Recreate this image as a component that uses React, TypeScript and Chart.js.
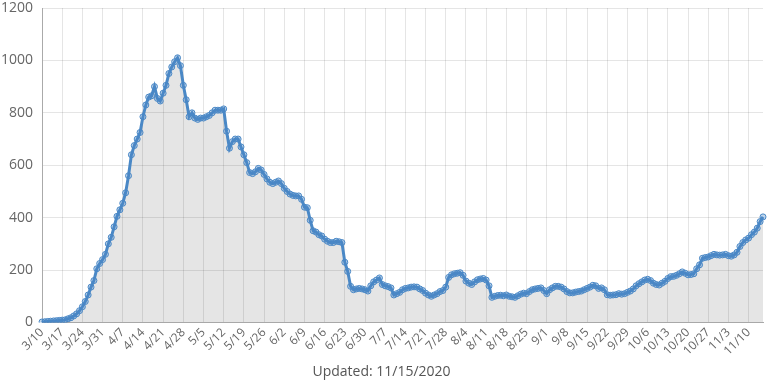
import React, { useEffect, useRef } from "react";
import { Chart, registerables } from "chart.js";

Chart.register(...registerables);

const startMonth = 3;
const startDay = 10;
const dayCount = 251;
const monthLengths = [31, 28, 31, 30, 31, 30, 31, 31, 30, 31, 30, 31];

const values: number[] = [
  // 3/10 - 3/16
  2, 3, 4, 5, 6, 7, 8,
  // 3/17 - 3/23
  9, 10, 14, 18, 25, 33, 45,
  // 3/24 - 3/30
  60, 80, 105, 135, 160, 205, 225,
  // 3/31 - 4/6
  240, 260, 300, 325, 365, 405, 430,
  // 4/7 - 4/13
  455, 495, 560, 640, 675, 700, 725,
  // 4/14 - 4/20
  785, 830, 860, 865, 900, 855, 845,
  // 4/21 - 4/27
  875, 905, 950, 975, 995, 1010, 980,
  // 4/28 - 5/4
  905, 850, 785, 800, 780, 775, 780,
  // 5/5 - 5/11
  780, 785, 790, 800, 810, 810, 810,
  // 5/12 - 5/18
  815, 730, 665, 690, 700, 700, 670,
  // 5/19 - 5/25
  640, 610, 572, 568, 575, 588, 582,
  // 5/26 - 6/1
  565, 548, 535, 530, 535, 540, 530,
  // 6/2 - 6/8
  512, 500, 490, 485, 483, 483, 470,
  // 6/9 - 6/15
  440, 438, 390, 350, 345, 335, 330,
  // 6/16 - 6/22
  318, 310, 305, 305, 310, 308, 305,
  // 6/23 - 6/29
  230, 195, 138, 125, 128, 130, 128,
  // 6/30 - 7/6
  125, 120, 140, 155, 162, 170, 145,
  // 7/7 - 7/13
  140, 137, 132, 105, 110, 115, 125,
  // 7/14 - 7/20
  130, 132, 135, 136, 135, 128, 122,
  // 7/21 - 7/27
  112, 105, 100, 105, 110, 118, 122,
  // 7/28 - 8/3
  135, 172, 182, 186, 188, 190, 180,
  // 8/4 - 8/10
  158, 150, 145, 155, 163, 166, 168,
  // 8/11 - 8/17
  162, 140, 96, 100, 103, 104, 102,
  // 8/18 - 8/24
  105, 100, 98, 96, 102, 108, 112,
  // 8/25 - 8/31
  110, 118, 125, 128, 130, 132, 122,
  // 9/1 - 9/7
  110, 125, 132, 138, 138, 135, 128,
  // 9/8 - 9/14
  118, 113, 113, 116, 118, 120, 125,
  // 9/15 - 9/21
  130, 135, 142, 140, 130, 132, 125,
  // 9/22 - 9/28
  106, 104, 105, 106, 110, 108, 110,
  // 9/29 - 10/5
  115, 120, 128, 140, 148, 155, 162,
  // 10/6 - 10/12
  165, 160, 150, 145, 143, 150, 157,
  // 10/13 - 10/19
  168, 175, 176, 180, 186, 193, 188,
  // 10/20 - 10/26
  182, 183, 186, 205, 220, 245, 248,
  // 10/27 - 11/2
  250, 255, 260, 258, 257, 258, 260,
  // 11/3 - 11/9
  255, 253, 258, 268, 290, 305, 315,
  // 11/10 - 11/15
  322, 335, 345, 360, 385, 403,
];

function buildLabels(): string[] {
  const out: string[] = [];
  let m = startMonth;
  let d = startDay;
  for (let i = 0; i < dayCount; i++) {
    out.push(`${m}/${d}`);
    d++;
    if (d > monthLengths[m - 1]) {
      d = 1;
      m++;
    }
  }
  return out;
}

const labels = buildLabels();
const yTicks = [0, 200, 400, 600, 800, 1000, 1200];
const titleText = "Updated: 11/15/2020";
const labelEvery = 7;

export default function App() {
  const ref = useRef<HTMLCanvasElement | null>(null);

  useEffect(() => {
    if (!ref.current) return;
    const font = "Open Sans";
    const chart = new Chart(ref.current, {
      type: "line",
      data: {
        labels,
        datasets: [
          {
            data: values,
            borderColor: "#4a88c6",
            borderWidth: 3,
            backgroundColor: "rgba(0,0,0,0.1)",
            fill: true,
            tension: 0,
            pointRadius: 3,
            pointBorderWidth: 1,
            pointBorderColor: "#4a88c6",
            pointBackgroundColor: "rgba(74,136,198,0.35)",
          },
        ],
      },
      options: {
        animation: false,
        responsive: false,
        maintainAspectRatio: false,
        layout: { padding: { top: 8, right: 7, left: 0, bottom: 4 } },
        plugins: {
          legend: { display: false },
          tooltip: { enabled: false },
          title: {
            display: true,
            position: "bottom",
            text: titleText,
            color: "#555",
            font: { family: font, size: 14, weight: "normal" },
            padding: { top: 2, bottom: 0 },
          },
        },
        scales: {
          x: {
            grid: { color: "rgba(0,0,0,0.1)", drawTicks: false },
            border: { color: "#aaa" },
            ticks: {
              autoSkip: false,
              minRotation: 45,
              maxRotation: 45,
              padding: 3,
              color: "#666",
              font: { family: font, size: 12 },
              callback: (_v: any, i: number) => (i % labelEvery === 0 ? labels[i] : null),
            },
          },
          y: {
            min: yTicks[0],
            max: yTicks[yTicks.length - 1],
            grid: { color: "rgba(0,0,0,0.1)", drawTicks: false },
            border: { color: "#aaa" },
            afterFit: (s: any) => {
              s.width = 42;
              s.paddingTop = 0;
              s.paddingBottom = 0;
            },
            ticks: {
              stepSize: 200,
              padding: 9,
              color: "#666",
              font: { family: font, size: 14 },
              callback: (v: any) => String(v),
            },
          },
        },
      },
    });
    return () => chart.destroy();
  }, []);

  return (
    <div style={{ position: "fixed", left: 0, top: 0, width: 770, height: 384, background: "#fff" }}>
      <canvas ref={ref} width={770} height={384} style={{ width: 770, height: 384 }} />
    </div>
  );
}
